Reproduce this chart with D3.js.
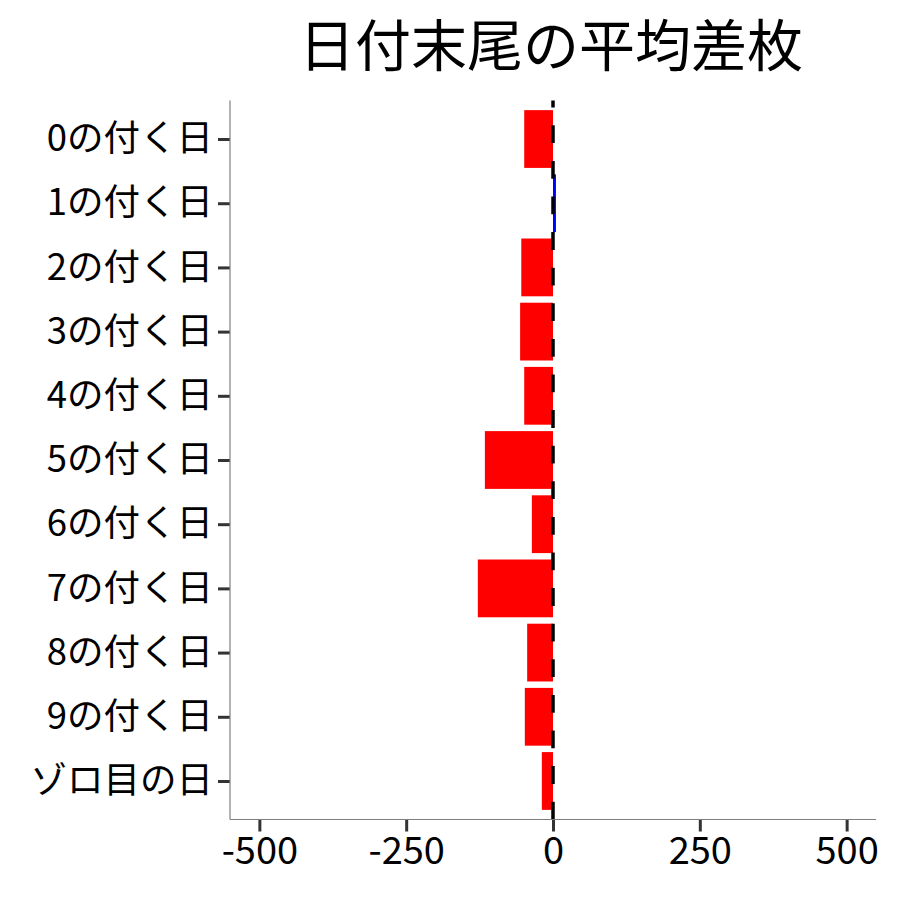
<!DOCTYPE html>
<html>
<head>
<meta charset="utf-8">
<script src="https://cdn.jsdelivr.net/npm/d3@7"></script>
<style>
  body { margin: 0; background: #fff; }
  svg text { font-family: "Noto Sans CJK JP", "Noto Sans", sans-serif; }
</style>
</head>
<body>
<svg id="chart" width="900" height="900"></svg>
<script>
// categories and mean differences
var categories = ["0の付く日", "1の付く日", "2の付く日", "3の付く日", "4の付く日",
  "5の付く日", "6の付く日", "7の付く日", "8の付く日", "9の付く日", "ゾロ目の日"];
var values = [-49, 5, -54, -56, -49, -116, -36, -128, -44, -48, -19];
var xTicks = [-500, -250, 0, 250, 500];
var titleText = "日付末尾の平均差枚";

var svg = d3.select("#chart");

var pLeft = 230, pRight = 876, pTop = 100.5, pBottom = 819.5;

var x = d3.scaleLinear()
  .domain([-550, 550])
  .range([pLeft, pRight]);

// discrete axis with 0.6 units of padding each side, like ggplot
var step = (pBottom - pTop) / (categories.length - 1 + 1.2);
var y = d3.scalePoint()
  .domain(categories)
  .range([pTop + 0.6 * step, pBottom - 0.6 * step]);

var barH = step * 0.9;

var data = categories.map(function(c, i) { return {name: c, value: values[i]}; });

// bars
svg.append("g")
  .selectAll("rect")
  .data(data)
  .enter().append("rect")
  .attr("x", function(d) { return x(Math.min(0, d.value)); })
  .attr("y", function(d) { return y(d.name) - barH / 2; })
  .attr("width", function(d) { return Math.abs(x(d.value) - x(0)); })
  .attr("height", barH)
  .attr("fill", function(d) { return d.value < 0 ? "#ff0000" : "#0000ff"; });

// dashed zero line, drawn from the bottom up
svg.append("line")
  .attr("x1", x(0)).attr("x2", x(0))
  .attr("y1", pBottom).attr("y2", pTop)
  .attr("stroke", "#000")
  .attr("stroke-width", 3.5)
  .attr("stroke-dasharray", "17.8,17.8");

// x axis
var xAxis = svg.append("g")
  .attr("transform", "translate(0," + pBottom + ")")
  .call(d3.axisBottom(x).tickValues(xTicks).tickSize(12).tickPadding(6).tickFormat(d3.format("d")));
xAxis.select(".domain").remove();
xAxis.append("line")
  .attr("x1", pLeft).attr("x2", pRight)
  .attr("stroke", "#7f7f7f").attr("stroke-width", 1.2);
xAxis.selectAll(".tick line").attr("stroke", "#333").attr("stroke-width", 3);
xAxis.selectAll(".tick text")
  .attr("fill", "#000")
  .style("font-size", "38px")
  .text(function(d) { return d < 0 ? "-" + Math.abs(d) : d; });

// y axis
var yAxis = svg.append("g")
  .attr("transform", "translate(" + pLeft + ",0)")
  .call(d3.axisLeft(y).tickSize(12).tickPadding(5));
yAxis.select(".domain").remove();
yAxis.append("line")
  .attr("y1", pTop).attr("y2", pBottom)
  .attr("stroke", "#7f7f7f").attr("stroke-width", 1.2);
yAxis.selectAll(".tick line").attr("stroke", "#333").attr("stroke-width", 3);
yAxis.selectAll(".tick text")
  .attr("fill", "#000")
  .style("font-size", "36.5px");

// title
svg.append("text")
  .attr("x", (pLeft + pRight) / 2 - 2)
  .attr("y", 66)
  .attr("text-anchor", "middle")
  .style("font-size", "56px")
  .attr("fill", "#000")
  .text(titleText);
</script>
</body>
</html>
